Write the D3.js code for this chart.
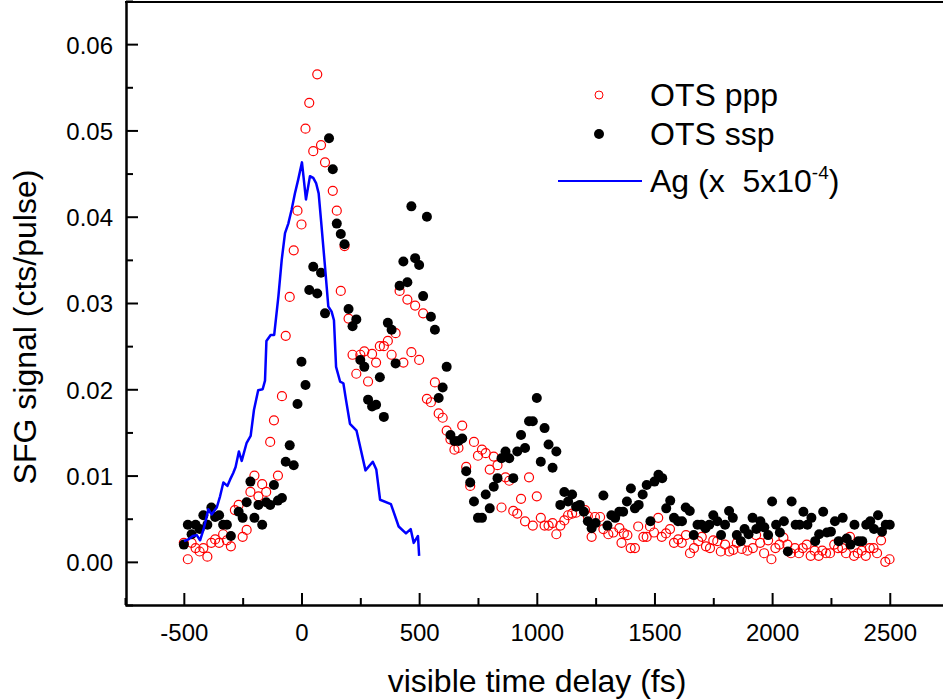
<!DOCTYPE html>
<html><head><meta charset="utf-8">
<script src="https://cdn.jsdelivr.net/npm/d3@7"></script>
<style>
body{margin:0;background:#fff}
svg{display:block}
text{font-family:"Liberation Sans",Arial,Helvetica,sans-serif;fill:#000}
</style>
</head><body>
<svg id="chart" width="943" height="700"></svg>
<script>
// ---- data ----
const pppTime = [-500,-483,-467,-450,-433,-417,-400,-383,-367,-350,-333,-317,-300,-283,-267,-250,-233,-217,-200,-183,-167,-150,-133,-117,-100,-83,-67,-50,-33,-17,0,17,33,50,67,83,100,133,150,167,183,200,217,233,250,267,283,300,317,333,350,367,383,400,417,433,450,467,483,500,517,533,550,567,583,600,617,633,650,667,683,700,717,733,750,767,783,800,817,833,850,867,883,900,917,933,950,967,983,1000,1017,1033,1050,1067,1083,1100,1117,1133,1150,1167,1205,1217,1233,1247,1269,1283,1304,1325,1351,1360,1370,1385,1399,1417,1431,1453,1467,1481,1498,1516,1531,1549,1566,1583,1601,1616,1634,1651,1668,1686,1701,1719,1736,1750,1767,1782,1800,1818,1835,1850,1871,1895,1918,1932,1949,1966,1983,1997,2014,2031,2048,2065,2080,2097,2114,2130,2147,2164,2181,2198,2213,2229,2246,2264,2280,2298,2314,2331,2348,2364,2381,2398,2415,2431,2446,2463,2481,2499];
const pppSignal = [0.0022,0.0003,0.0022,0.0016,0.0012,0.0016,0.0006,0.0022,0.0026,0.0022,0.0032,0.0025,0.0018,0.0060,0.0066,0.0029,0.0037,0.0081,0.0100,0.0076,0.0090,0.0081,0.0139,0.0164,0.0100,0.0192,0.0262,0.0307,0.0361,0.0407,0.0391,0.0502,0.0532,0.0476,0.0565,0.0483,0.0463,0.0430,0.0407,0.0314,0.0366,0.0282,0.0240,0.0218,0.0240,0.0244,0.0209,0.0241,0.0231,0.0250,0.0250,0.0256,0.0240,0.0265,0.0314,0.0231,0.0304,0.0243,0.0297,0.0234,0.0288,0.0189,0.0185,0.0208,0.0172,0.0167,0.0152,0.0142,0.0130,0.0132,0.0158,0.0110,0.0088,0.0139,0.0123,0.0130,0.0126,0.0107,0.0122,0.0112,0.0063,0.0098,0.0094,0.0059,0.0056,0.0073,0.0047,0.0098,0.0042,0.0076,0.0051,0.0042,0.0042,0.0045,0.0032,0.0042,0.0048,0.0054,0.0056,0.0057,0.0060,0.0053,0.0029,0.0052,0.0052,0.0038,0.0032,0.0034,0.0039,0.0022,0.0033,0.0031,0.0016,0.0016,0.0041,0.0029,0.0029,0.0041,0.0034,0.0051,0.0029,0.0033,0.0038,0.0022,0.0026,0.0022,0.0031,0.0010,0.0016,0.0024,0.0029,0.0018,0.0016,0.0025,0.0024,0.0012,0.0020,0.0012,0.0014,0.0022,0.0015,0.0013,0.0016,0.0031,0.0022,0.0010,0.0025,0.0003,0.0016,0.0020,0.0028,0.0020,0.0010,0.0016,0.0010,0.0016,0.0020,0.0007,0.0013,0.0007,0.0013,0.0010,0.0010,0.0020,0.0016,0.0016,0.0010,0.0029,0.0007,0.0010,0.0013,0.0007,0.0016,0.0016,0.0010,0.0025,0.0000,0.0003];

const sspTime = [-500,-483,-467,-450,-433,-417,-400,-383,-367,-350,-333,-317,-300,-267,-250,-233,-217,-200,-183,-167,-150,-133,-117,-100,-83,-67,-50,-33,-17,0,17,33,50,67,83,100,117,133,150,167,183,200,217,233,250,267,283,300,317,333,350,367,383,400,417,433,450,467,483,500,517,533,550,567,583,600,617,633,650,667,683,700,717,733,750,767,783,800,817,833,850,867,883,900,917,933,950,967,983,1000,1017,1033,1050,1067,1083,1100,1117,1133,1150,1167,1183,1200,1217,1233,1250,1283,1300,1317,1333,1350,1367,1383,1400,1417,1433,1450,1467,1483,1500,1517,1533,1550,1567,1583,1600,1617,1633,1650,1667,1683,1700,1717,1733,1750,1767,1783,1800,1817,1833,1850,1867,1883,1900,1917,1933,1950,1967,1983,2000,2017,2033,2050,2067,2083,2100,2117,2133,2150,2167,2183,2200,2217,2233,2250,2267,2283,2300,2317,2333,2350,2367,2383,2400,2417,2433,2450,2467,2483,2500];
const sspSignal = [0.0020,0.0043,0.0032,0.0043,0.0038,0.0054,0.0043,0.0063,0.0052,0.0054,0.0043,0.0043,0.0030,0.0058,0.0051,0.0069,0.0093,0.0051,0.0066,0.0043,0.0069,0.0066,0.0089,0.0071,0.0074,0.0116,0.0135,0.0112,0.0183,0.0232,0.0205,0.0315,0.0342,0.0311,0.0335,0.0288,0.0491,0.0455,0.0392,0.0380,0.0368,0.0293,0.0273,0.0281,0.0234,0.0226,0.0188,0.0180,0.0182,0.0214,0.0168,0.0277,0.0269,0.0230,0.0320,0.0348,0.0324,0.0412,0.0352,0.0344,0.0308,0.0400,0.0284,0.0269,0.0190,0.0202,0.0226,0.0147,0.0140,0.0140,0.0143,0.0105,0.0092,0.0070,0.0051,0.0051,0.0078,0.0062,0.0087,0.0097,0.0120,0.0128,0.0120,0.0097,0.0128,0.0147,0.0132,0.0163,0.0163,0.0190,0.0116,0.0155,0.0136,0.0109,0.0128,0.0066,0.0081,0.0070,0.0078,0.0064,0.0066,0.0058,0.0047,0.0039,0.0045,0.0077,0.0042,0.0054,0.0051,0.0058,0.0058,0.0070,0.0085,0.0062,0.0066,0.0078,0.0089,0.0047,0.0093,0.0101,0.0097,0.0062,0.0071,0.0051,0.0047,0.0047,0.0063,0.0059,0.0031,0.0043,0.0043,0.0039,0.0043,0.0054,0.0047,0.0031,0.0043,0.0059,0.0051,0.0031,0.0024,0.0038,0.0032,0.0051,0.0038,0.0047,0.0040,0.0031,0.0070,0.0043,0.0034,0.0047,0.0012,0.0070,0.0043,0.0043,0.0058,0.0043,0.0051,0.0024,0.0032,0.0058,0.0034,0.0035,0.0047,0.0024,0.0051,0.0027,0.0020,0.0043,0.0024,0.0024,0.0043,0.0047,0.0038,0.0054,0.0035,0.0043,0.0043];

const agTime = [-499,-481,-462,-445,-431,-417,-406,-396,-382,-360,-346,-332,-315,-304,-290,-280,-266,-254,-233,-216,-202,-184,-165,-155,-149,-131,-116,-98,-84,-70,-56,-42,-28,-14,2,19,36,50,62,73,83,100,114,128,138,147,164,178,189,206,234,272,303,318,334,380,413,444,464,477,495,500];
const agSignal = [0.0024,0.0026,0.0030,0.0031,0.0025,0.0037,0.0049,0.0061,0.0055,0.0063,0.0076,0.0092,0.0088,0.0095,0.0103,0.0110,0.0128,0.0117,0.0138,0.0146,0.0176,0.0199,0.0200,0.0210,0.0256,0.0263,0.0263,0.0308,0.0350,0.0381,0.0392,0.0408,0.0427,0.0443,0.0463,0.0420,0.0447,0.0445,0.0439,0.0427,0.0396,0.0342,0.0296,0.0290,0.0280,0.0226,0.0209,0.0207,0.0188,0.0160,0.0152,0.0106,0.0116,0.0107,0.0072,0.0067,0.0041,0.0033,0.0038,0.0022,0.0030,0.0007];

const xMajorTicks = [-500,0,500,1000,1500,2000,2500];
const xMinorTicks = [-750,-250,250,750,1250,1750,2250,2750];
const yMajorTicks = [0.00,0.01,0.02,0.03,0.04,0.05,0.06];
const yMinorTicks = [-0.005,0.005,0.015,0.025,0.035,0.045,0.055,0.065];
const seriesNames = ["OTS ppp","OTS ssp","Ag (x  5x10"];

// ---- drawing ----
const svg = d3.select("#chart");
const x = d3.scaleLinear().domain([-750,2750]).range([125,948.6]);
const y = d3.scaleLinear().domain([-0.005,0.065]).range([605,1]);

function styleAxis(g){
  g.select(".domain").attr("stroke","#000").attr("stroke-width",2);
  g.selectAll(".tick line").attr("stroke","#000").attr("stroke-width",2);
  g.selectAll(".tick text").style("font-size","24px").attr("fill","#000");
}

// minor ticks
svg.append("g").attr("transform","translate(0,605)")
  .call(d3.axisBottom(x).tickValues(xMinorTicks).tickSize(-7).tickSizeOuter(0).tickFormat(""))
  .call(styleAxis);
svg.append("g").attr("transform","translate(126,0)")
  .call(d3.axisLeft(y).tickValues(yMinorTicks).tickSize(-7).tickSizeOuter(0).tickFormat(""))
  .call(styleAxis);

// major axes
svg.append("g").attr("transform","translate(0,605)")
  .call(d3.axisBottom(x).tickValues(xMajorTicks).tickSize(-12).tickSizeOuter(0).tickPadding(19).tickFormat(d=>String(d)))
  .call(styleAxis);
const yAxisG = svg.append("g").attr("transform","translate(126,0)")
  .call(d3.axisLeft(y).tickValues(yMajorTicks).tickSize(-12).tickSizeOuter(0).tickPadding(13).tickFormat(d3.format(".2f")))
  .call(styleAxis);
yAxisG.selectAll(".tick text").attr("dy","0.37em");
svg.selectAll(".tick text").attr("font-family",null);
svg.selectAll("g").attr("font-family",null);

// top frame line
svg.append("line").attr("x1",125).attr("x2",943).attr("y1",y(0.065)+1).attr("y2",y(0.065)+1)
  .attr("stroke","#000").attr("stroke-width",2);

// ppp - open red circles
svg.append("g").selectAll("circle").data(pppTime.map((t,i)=>[t,pppSignal[i]])).join("circle")
  .attr("cx",d=>x(d[0])).attr("cy",d=>y(d[1])).attr("r",4.5)
  .attr("fill","none").attr("stroke","#ff0000").attr("stroke-width",1.2);

// ssp - filled black dots
svg.append("g").selectAll("circle").data(sspTime.map((t,i)=>[t,sspSignal[i]])).join("circle")
  .attr("cx",d=>x(d[0])).attr("cy",d=>y(d[1])).attr("r",5)
  .attr("fill","#000");

// Ag line
svg.append("path").datum(agTime.map((t,i)=>[t,agSignal[i]]))
  .attr("d",d3.line().x(d=>x(d[0])).y(d=>y(d[1])))
  .attr("fill","none").attr("stroke","#0000ff").attr("stroke-width",2.5).attr("stroke-linejoin","round");

// legend
const lg = svg.append("g");
lg.append("circle").attr("cx",599).attr("cy",95).attr("r",4).attr("fill","none").attr("stroke","#ff0000").attr("stroke-width",1);
lg.append("text").attr("x",650).attr("y",106).style("font-size","32px").text(seriesNames[0]);
lg.append("circle").attr("cx",599).attr("cy",134).attr("r",5).attr("fill","#000");
lg.append("text").attr("x",650).attr("y",145).style("font-size","32px").text(seriesNames[1]);
lg.append("line").attr("x1",558).attr("x2",642).attr("y1",181).attr("y2",181).attr("stroke","#0000ff").attr("stroke-width",2);
const agT = lg.append("text").attr("x",650).attr("y",192).style("font-size","32px").attr("xml:space","preserve").style("white-space","pre");
agT.append("tspan").text(seriesNames[2]);
agT.append("tspan").attr("dy",-13).style("font-size","19px").text("-4");
agT.append("tspan").attr("dy",13).text(")");

// axis titles
svg.append("text").attr("x",537).attr("y",692).attr("text-anchor","middle").style("font-size","32px").text("visible time delay (fs)");
svg.append("text").attr("transform","translate(36,327) rotate(-90)").attr("text-anchor","middle").style("font-size","32px").text("SFG signal (cts/pulse)");
</script>
</body></html>
